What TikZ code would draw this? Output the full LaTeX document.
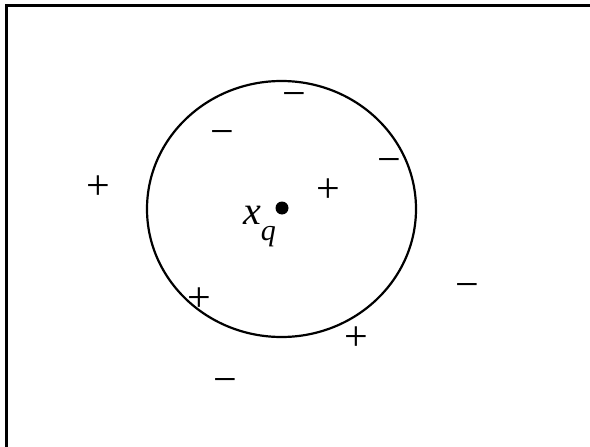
\documentclass[tikz,border=0pt]{standalone}
\usepackage{fontspec}
\usetikzlibrary{shapes.geometric}
\setmainfont{Liberation Serif}
\begin{document}
\begin{tikzpicture}[x=1pt,y=-1pt,
  sign/.style={inner sep=0pt,text height=29pt,text depth=0pt,font=\fontsize{42}{42}\selectfont},
  lbl/.style={inner sep=0pt,font=\fontsize{40}{40}\selectfont}]
\useasboundingbox (0,0) rectangle (590,447);
\coordinate (bl) at (6.5,447);
\coordinate (tl) at (6.5,5);
\coordinate (tr) at (590,5);
\draw[line width=3pt] (bl) -- (tl) -- (tr);
\node[draw,line width=2.2pt,ellipse,minimum width=269pt,minimum height=256pt,inner sep=0pt] (c) at (281.5,209) {};
\fill (282,208) circle (6.5pt) coordinate (q);
\node[lbl,anchor=base east] (xq) at (276,224) {\textit{x}\raisebox{-0.42em}{\fontsize{30}{30}\selectfont\textit{q}}};
\node[sign] (p1) at (98,185) {+};
\node[sign] (m1) at (294,93) {−};
\node[sign] (m2) at (222,131) {−};
\node[sign] (m3) at (389,159) {−};
\node[sign] (p2) at (328,188) {+};
\node[sign] (p3) at (199,297) {+};
\node[sign] (m4) at (467,284) {−};
\node[sign] (p4) at (356,336) {+};
\node[sign] (m5) at (225,379) {−};
\end{tikzpicture}
\end{document}
